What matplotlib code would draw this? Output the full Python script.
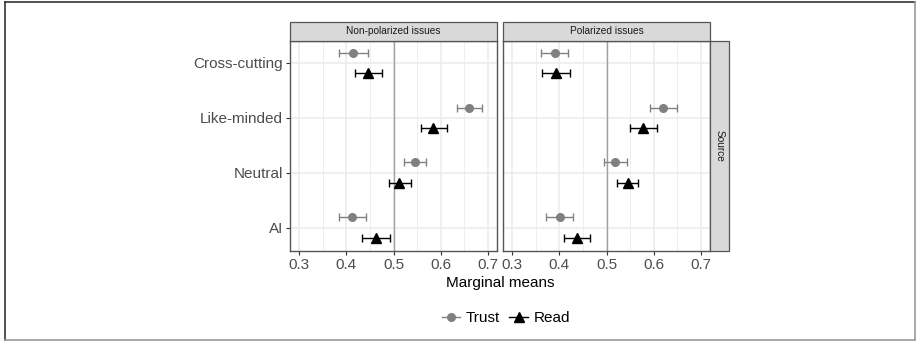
import matplotlib.pyplot as plt
from matplotlib.lines import Line2D
from matplotlib.patches import Rectangle
import numpy as np

plt.rcParams['font.family'] = ['Liberation Sans', 'DejaVu Sans']

# Data
sources = ["Cross-cutting", "Like-minded", "Neutral", "AI"]
panels = ["Non-polarized issues", "Polarized issues"]

# Non-polarized issues
np_trust = [0.415, 0.660, 0.546, 0.412]
np_trust_lo = [0.385, 0.634, 0.523, 0.385]
np_trust_hi = [0.445, 0.688, 0.569, 0.441]
np_read = [0.447, 0.584, 0.512, 0.462]
np_read_lo = [0.418, 0.558, 0.490, 0.433]
np_read_hi = [0.476, 0.614, 0.536, 0.492]

# Polarized issues
p_trust = [0.390, 0.620, 0.518, 0.401]
p_trust_lo = [0.361, 0.593, 0.494, 0.373]
p_trust_hi = [0.419, 0.650, 0.543, 0.429]
p_read = [0.393, 0.578, 0.545, 0.438]
p_read_lo = [0.364, 0.550, 0.523, 0.410]
p_read_hi = [0.422, 0.607, 0.566, 0.466]

data = [
    (np_trust, np_trust_lo, np_trust_hi, np_read, np_read_lo, np_read_hi),
    (p_trust, p_trust_lo, p_trust_hi, p_read, p_read_lo, p_read_hi),
]

W, H = 916, 341
fig = plt.figure(figsize=(W / 100, H / 100), dpi=100)

def fx(px):
    return px / W

def fy(py):
    return 1 - py / H

# figure frame
fig.add_artist(Line2D([fx(5), fx(915)], [fy(2), fy(2)], color="#333333", lw=1.2))
fig.add_artist(Line2D([fx(5), fx(5)], [fy(2), fy(340)], color="#333333", lw=1.2))
fig.add_artist(Line2D([fx(915), fx(915)], [fy(2), fy(340)], color="#999999", lw=1.2))
fig.add_artist(Line2D([fx(5), fx(915)], [fy(340), fy(340)], color="#999999", lw=1.2))

ypos = np.array([4, 3, 2, 1])
dodge = 0.19
trust_col = "#808080"
read_col = "black"
lefts = [290, 503]
pw = 207
top, bottom = 41, 251

axes = []
for i, (title, d) in enumerate(zip(panels, data)):
    ax = fig.add_axes([fx(lefts[i]), fy(bottom), fx(pw), (bottom - top) / H])
    axes.append(ax)
    t, tlo, thi, r, rlo, rhi = [np.array(v) for v in d]

    ax.set_xlim(0.281, 0.719)
    ax.set_ylim(0.58, 4.4)
    ax.set_xticks([0.3, 0.4, 0.5, 0.6, 0.7])
    ax.set_xticklabels(["0.3", "0.4", "0.5", "0.6", "0.7"])
    ax.set_xticks([0.35, 0.45, 0.55, 0.65], minor=True)
    ax.set_yticks(ypos)
    ax.grid(True, which="major", color="#ebebeb", lw=1.1, zorder=0)
    ax.grid(True, which="minor", axis="x", color="#ebebeb", lw=0.6, zorder=0)
    ax.set_axisbelow(True)
    ax.axvline(0.5, color="#a0a0a0", lw=1.0, zorder=1)

    ax.errorbar(t, ypos + dodge, xerr=[t - tlo, thi - t], fmt="o", color=trust_col,
                ms=5.5, elinewidth=1.0, capsize=2.8, capthick=1.0, zorder=3)
    ax.errorbar(r, ypos - dodge, xerr=[r - rlo, rhi - r], fmt="^", color=read_col,
                ms=6.5, elinewidth=1.0, capsize=2.8, capthick=1.0, zorder=3)

    for s in ax.spines.values():
        s.set_color("#555555")
        s.set_linewidth(1.0)
    ax.tick_params(axis="both", which="major", length=3, width=0.8, color="#333333",
                   labelsize=11, labelcolor="#4d4d4d", pad=2)
    ax.tick_params(axis="both", which="minor", length=0)
    if i == 0:
        ax.set_yticklabels(sources)
    else:
        ax.tick_params(axis="y", which="major", length=0, labelleft=False)

    # strip on top
    fig.add_artist(Rectangle((fx(lefts[i]), fy(41)), fx(pw), 19 / H, transform=fig.transFigure,
                             facecolor="#d9d9d9", edgecolor="#555555", lw=0.9))
    fig.text(fx(lefts[i] + pw / 2), fy(31.5), title, ha="center", va="center",
             fontsize=7.3, color="#1a1a1a")

# right strip
fig.add_artist(Rectangle((fx(710), fy(bottom)), fx(19), (bottom - top) / H, transform=fig.transFigure,
                         facecolor="#d9d9d9", edgecolor="#555555", lw=0.9))
fig.text(fx(719.5), fy((top + bottom) / 2), "Source", ha="center", va="center",
         rotation=-90, fontsize=7.3, color="#1a1a1a")

fig.text(fx(500), fy(283), "Marginal means", ha="center", va="center", fontsize=11, color="black")

handles = [
    Line2D([], [], color=trust_col, marker="o", ms=5.5, lw=1.0),
    Line2D([], [], color=read_col, marker="^", ms=6.5, lw=1.0),
]
fig.legend(handles, ["Trust", "Read"], loc="center", bbox_to_anchor=(fx(506), fy(318)),
           ncol=2, frameon=False, fontsize=11, handlelength=1.2, handletextpad=0.4,
           columnspacing=0.6)

fig.savefig("out.png", dpi=100)
